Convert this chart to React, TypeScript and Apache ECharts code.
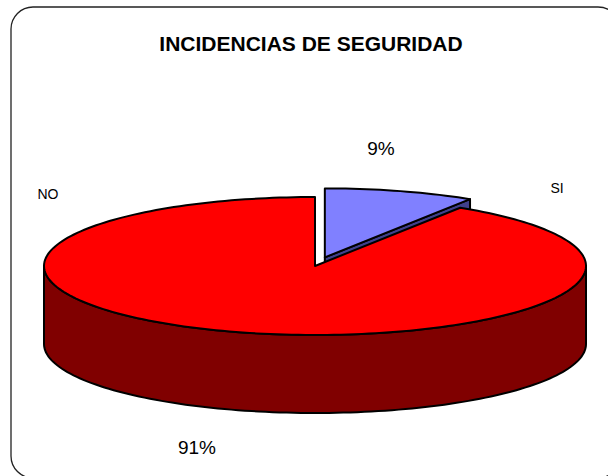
import React, { useEffect, useRef } from "react";
import * as echarts from "echarts";

const TITLE = "INCIDENCIAS DE SEGURIDAD";
const CATEGORIES = ["SI", "NO"];
const VALUES = [9, 91];

const TOP_COLORS = ["#8080FF", "#FF0000"];
const SIDE_COLORS = ["#40408C", "#800000"];
const EXPLODE = [0.13, 0];

// pie geometry (like a pie's center / radius)
const CX = 315;
const CY = 266;
const RX = 271;
const RY = 69;
const DEPTH = 78;
const START = 90;

// label placement (layout config, not data)
const NAME_POS: Record<string, [number, number]> = { SI: [557, 188], NO: [48, 194] };
const PCT_POS: Record<string, [number, number]> = { SI: [381, 148], NO: [197, 447] };

const FONT = "'Liberation Sans', Arial, sans-serif";

export default function App() {
  const ref = useRef<HTMLDivElement>(null);
  useEffect(() => {
    if (!ref.current) return;
    const chart = echarts.init(ref.current, null, { renderer: "svg" });
    const total = VALUES.reduce((a, b) => a + b, 0);
    const spans: [number, number][] = [];
    let cum = 0;
    VALUES.forEach((v) => {
      const hi = START - (cum / total) * 360;
      cum += v;
      const lo = START - (cum / total) * 360;
      spans.push([lo, hi]);
    });
    const rad = Math.PI / 180;

    const renderItem = (params: any) => {
      const i = params.dataIndex;
      const [lo, hi] = spans[i];
      const mid = ((lo + hi) / 2) * rad;
      const ox = EXPLODE[i] * RX * Math.cos(mid);
      const oy = -EXPLODE[i] * RY * Math.sin(mid);
      const P = (deg: number, dz: number) => [
        CX + ox + RX * Math.cos(deg * rad),
        CY + oy - RY * Math.sin(deg * rad) + dz,
      ];
      const arc = (a: number, b: number, dz: number) => {
        const n = Math.max(2, Math.ceil(Math.abs(b - a) / 1.5));
        const pts: number[][] = [];
        for (let k = 0; k <= n; k++) pts.push(P(a + ((b - a) * k) / n, dz));
        return pts;
      };
      const stroke = { stroke: "#000", lineWidth: 2, lineJoin: "round" };
      const children: any[] = [];
      const c0 = [CX + ox, CY + oy];
      const c1 = [CX + ox, CY + oy + DEPTH];
      // radial faces
      const faces: [number, number][] = [
        [lo, lo - 90],
        [hi, hi + 90],
      ];
      faces.forEach(([a, nrm]) => {
        if (Math.sin(nrm * rad) < -1e-6) {
          children.push({
            type: "polygon",
            shape: { points: [c0, P(a, 0), P(a, DEPTH), c1] },
            style: { fill: SIDE_COLORS[i], ...stroke },
          });
        }
      });
      // outer curved side
      for (let k = -2; k <= 2; k++) {
        const s = Math.max(lo, -180 + 360 * k);
        const e = Math.min(hi, 360 * k);
        if (e > s) {
          children.push({
            type: "polygon",
            shape: { points: arc(s, e, 0).concat(arc(e, s, DEPTH)) },
            style: { fill: SIDE_COLORS[i], ...stroke },
          });
        }
      }
      // top face
      children.push({
        type: "polygon",
        shape: { points: [c0].concat(arc(lo, hi, 0)) },
        style: { fill: TOP_COLORS[i], ...stroke },
      });
      return { type: "group", children };
    };

    const labels: any[] = [];
    CATEGORIES.forEach((name, i) => {
      const pct = Math.round((VALUES[i] / total) * 100) + "%";
      labels.push({
        type: "text",
        x: NAME_POS[name][0],
        y: NAME_POS[name][1],
        style: {
          text: name,
          fontSize: 14,
          fontFamily: FONT,
          fill: "#000",
          textAlign: "center",
          textVerticalAlign: "middle",
        },
      });
      labels.push({
        type: "text",
        x: PCT_POS[name][0],
        y: PCT_POS[name][1],
        style: {
          text: pct,
          fontSize: 19,
          fontFamily: FONT,
          fill: "#000",
          textAlign: "center",
          textVerticalAlign: "middle",
        },
      });
    });

    chart.setOption({
      animation: false,
      backgroundColor: "#fff",
      title: {
        text: TITLE,
        left: 311,
        top: 33,
        padding: 0,
        textAlign: "center",
        textStyle: { fontSize: 21, fontWeight: "bold", fontFamily: FONT, color: "#000" },
      },
      graphic: [
        {
          type: "rect",
          shape: { x: 11, y: 7, width: 609, height: 471, r: 22 },
          style: { fill: "none", stroke: "#222", lineWidth: 1.3 },
          z: 0,
        },
        ...labels,
      ],
      series: [
        {
          type: "custom",
          coordinateSystem: "none",
          silent: true,
          renderItem,
          data: CATEGORIES.map((name, i) => ({ name, value: VALUES[i] })),
        },
      ],
    });
    return () => chart.dispose();
  }, []);
  return (
    <div
      ref={ref}
      style={{ position: "fixed", left: 0, top: 0, width: 608, height: 476, background: "#fff" }}
    />
  );
}
